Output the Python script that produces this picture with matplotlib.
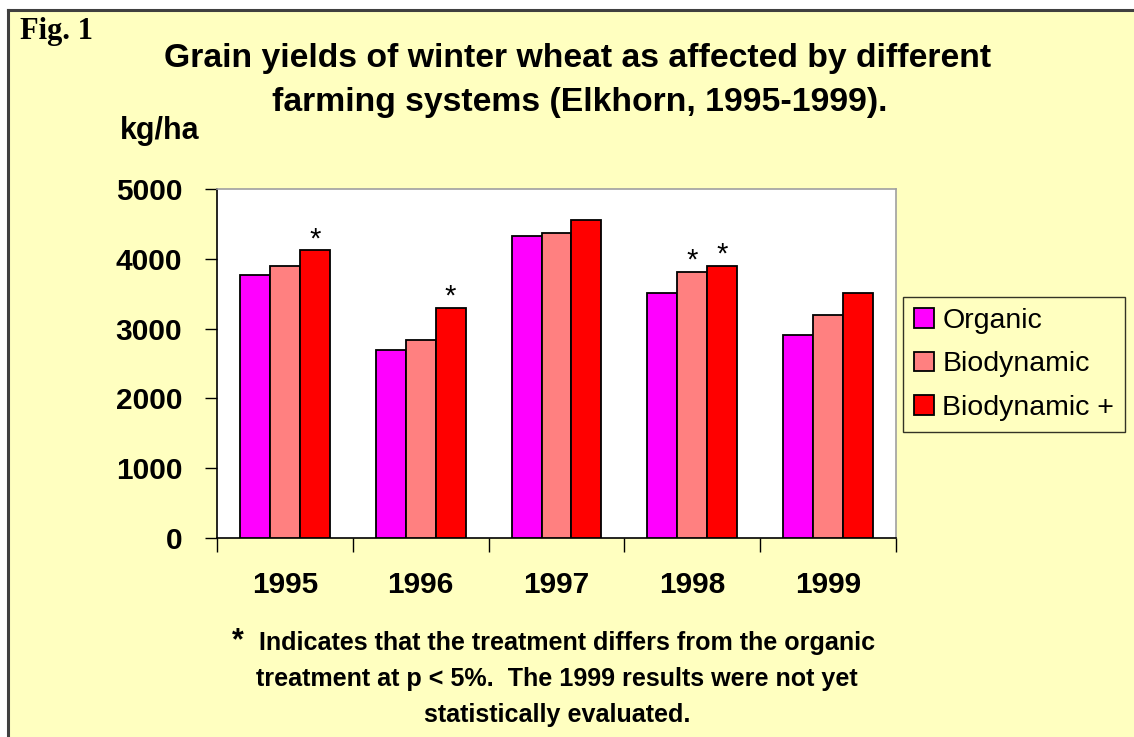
import matplotlib
matplotlib.use("Agg")
import matplotlib.pyplot as plt
import numpy as np
from matplotlib.patches import Rectangle
from matplotlib.lines import Line2D

years = ["1995", "1996", "1997", "1998", "1999"]
series_names = ["Organic", "Biodynamic", "Biodynamic +"]
organic = [3770, 2690, 4320, 3510, 2910]
biodynamic = [3900, 2840, 4370, 3810, 3200]
biodynamic_plus = [4120, 3300, 4560, 3900, 3510]
significant = [[False, False, False, False, False],
               [False, False, False, True, False],
               [True, True, False, True, False]]
yticks = [0, 1000, 2000, 3000, 4000, 5000]
colors = ["#FF00FF", "#FF8080", "#FF0000"]

W, H = 1134, 737
BG = "#FFFFC0"
fig = plt.figure(figsize=(W / 100, H / 100), dpi=100)
fig.patch.set_facecolor("white")

def fx(px):
    return px / W

def fy(py):
    return 1 - py / H

# background panel with dark border on top/left
fig.patches.append(Rectangle((fx(8), 0), 1 - fx(8), fy(10), transform=fig.transFigure,
                             facecolor=BG, edgecolor="none", zorder=-10))
fig.lines.append(Line2D([fx(8), fx(8)], [0, fy(10)], transform=fig.transFigure,
                        color="#404040", lw=2.2, zorder=-5))
fig.lines.append(Line2D([fx(8), 1], [fy(10), fy(10)], transform=fig.transFigure,
                        color="#404040", lw=2.2, zorder=-5))

left, right, top, bottom = 217, 896, 189, 538
ax = fig.add_axes([fx(left), fy(bottom), fx(right - left), (bottom - top) / H])
ax.set_facecolor("white")

x = np.arange(len(years))
bw = 0.22
data = [organic, biodynamic, biodynamic_plus]
for i, (vals, c, name) in enumerate(zip(data, colors, series_names)):
    bars = ax.bar(x + (i - 1) * bw, vals, width=bw, color=c, edgecolor="black",
                  linewidth=1.3, label=name, zorder=3)
    for j, b in enumerate(bars):
        if significant[i][j]:
            ax.annotate("*", (b.get_x() + b.get_width() / 2, b.get_height()),
                        xytext=(0, -2), textcoords="offset points", ha="center",
                        va="bottom", fontsize=21, family="Liberation Sans")

ax.set_xlim(-0.5, len(years) - 0.5)
ax.set_ylim(0, 5000)
ax.set_yticks(yticks)
ax.set_yticklabels([str(v) for v in yticks], fontsize=21.5, fontweight="bold",
                   family="Liberation Sans")
ax.tick_params(axis="y", direction="out", length=9, width=1, pad=16)
ax.set_xticks(np.arange(len(years) + 1) - 0.5)
ax.set_xticklabels([])
ax.set_xticks(x, minor=True)
ax.set_xticklabels(years, minor=True, fontsize=21.5, fontweight="bold",
                   family="Liberation Sans")
ax.tick_params(axis="x", which="major", direction="out", length=10, width=1)
ax.tick_params(axis="x", which="minor", length=0, pad=24)
for s in ["left", "bottom"]:
    ax.spines[s].set_color("black")
    ax.spines[s].set_linewidth(1.2)
for s in ["top", "right"]:
    ax.spines[s].set_color("#A0A0A0")
    ax.spines[s].set_linewidth(1.2)

leg = fig.legend(loc="upper left", bbox_to_anchor=(fx(903), fy(297)),
                 prop={"family": "Liberation Sans", "size": 20.5},
                 handlelength=0.7, handleheight=0.7, handletextpad=0.3,
                 labelspacing=0.62, borderpad=0.38, borderaxespad=0,
                 fancybox=False, frameon=True)
leg.get_frame().set_edgecolor("black")
leg.get_frame().set_facecolor(BG)
leg.get_frame().set_linewidth(1.0)

fig.text(fx(20), fy(32), "Fig. 1", fontsize=22, fontweight="bold",
         family="Liberation Serif", va="center", ha="left")
fig.text(fx(578), fy(58), "Grain yields of winter wheat as affected by different",
         fontsize=24.3, fontweight="bold", family="Liberation Sans", ha="center", va="center")
fig.text(fx(580), fy(103), "farming systems (Elkhorn, 1995-1999).",
         fontsize=24.3, fontweight="bold", family="Liberation Sans", ha="center", va="center")
fig.text(fx(120), fy(131), "kg/ha", fontsize=22, fontweight="bold",
         family="Liberation Sans", ha="left", va="center")

foot_fam = "Liberation Sans"
fig.text(fx(238), fy(641), "*", fontsize=22, fontweight="bold", family=foot_fam,
         ha="center", va="center")
fig.text(fx(567), fy(643), "Indicates that the treatment differs from the organic",
         fontsize=18.1, fontweight="bold", family=foot_fam, ha="center", va="center")
fig.text(fx(557), fy(679), "treatment at p < 5%.  The 1999 results were not yet",
         fontsize=18.1, fontweight="bold", family=foot_fam, ha="center", va="center")
fig.text(fx(557), fy(715), "statistically evaluated.",
         fontsize=18.1, fontweight="bold", family=foot_fam, ha="center", va="center")

fig.savefig("out.png", dpi=100, facecolor=fig.get_facecolor())
